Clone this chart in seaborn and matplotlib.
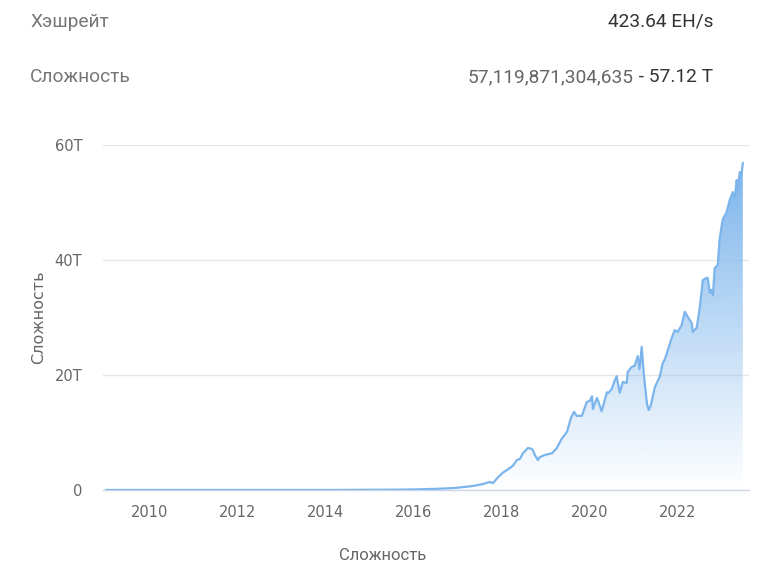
import numpy as np
import pandas as pd
import seaborn as sns
import matplotlib.pyplot as plt
from matplotlib import colors
from matplotlib.path import Path
from matplotlib.patches import PathPatch

# Header values
HASHRATE_LABEL = "Хэшрейт"
HASHRATE_VALUE = "423.64 EH/s"
DIFF_LABEL = "Сложность"
DIFF_RAW = "57,119,871,304,635"
DIFF_SHORT = " - 57.12 T"

# Difficulty series (decimal year, value in T)
years = [
    2009.0, 2010.0, 2011.0, 2012.0, 2013.0, 2014.0, 2014.5, 2015.0, 2015.5,
    2016.0, 2016.5, 2016.8, 2017.0, 2017.34, 2017.55, 2017.73, 2017.8, 2017.9,
    2018.02, 2018.14, 2018.25, 2018.34, 2018.41, 2018.48, 2018.59, 2018.66,
    2018.7, 2018.75, 2018.82, 2018.86, 2018.98, 2019.14, 2019.25, 2019.36,
    2019.48, 2019.57, 2019.64, 2019.7, 2019.82, 2019.93, 2020.0, 2020.05,
    2020.07, 2020.16, 2020.18, 2020.27, 2020.39, 2020.43, 2020.5, 2020.57,
    2020.61, 2020.68, 2020.75, 2020.84, 2020.86, 2020.95, 2021.02, 2021.09,
    2021.13, 2021.18, 2021.23, 2021.3, 2021.34, 2021.39, 2021.48, 2021.59,
    2021.66, 2021.70, 2021.77, 2021.86, 2021.93, 2022.0, 2022.09, 2022.16,
    2022.23, 2022.32, 2022.34, 2022.43, 2022.5, 2022.57, 2022.66, 2022.68,
    2022.73, 2022.77, 2022.8, 2022.84, 2022.91, 2022.95, 2023.02, 2023.11,
    2023.18, 2023.25, 2023.3, 2023.34, 2023.36, 2023.41, 2023.45, 2023.48,
]
difficulty = [
    0.0, 0.0, 0.0, 0.0, 0.0, 0.003, 0.015, 0.04, 0.05,
    0.1, 0.2, 0.3, 0.4, 0.7, 1.0, 1.4, 1.2, 2.1,
    3.0, 3.6, 4.2, 5.2, 5.4, 6.4, 7.3, 7.2,
    7.0, 6.1, 5.2, 5.7, 6.1, 6.4, 7.3, 8.9,
    10.1, 12.5, 13.6, 12.9, 12.9, 15.3, 15.5, 16.3,
    14.1, 16.0, 15.7, 13.7, 17.0, 16.9, 17.6, 19.1,
    19.8, 16.9, 18.8, 18.6, 20.5, 21.4, 21.6, 23.3,
    21.0, 24.9, 20.0, 15.0, 13.9, 14.8, 17.9, 19.7,
    22.1, 22.6, 24.2, 26.4, 27.8, 27.5, 28.7, 31.0,
    30.1, 29.0, 27.5, 28.2, 31.7, 36.5, 36.9, 36.9,
    34.3, 34.8, 33.9, 38.6, 39.1, 43.5, 47.0, 48.3,
    50.4, 51.8, 50.8, 53.9, 52.2, 55.3, 54.8, 56.9,
]

year_ticks = [2010, 2012, 2014, 2016, 2018, 2020, 2022]
value_ticks = [0, 20, 40, 60]
value_tick_labels = ["0", "20T", "40T", "60T"]

LINE_COLOR = "#7cb5ec"
AXIS_COLOR = "#ccd6eb"
GRID_COLOR = "#e6e6e6"
LABEL_COLOR = "#666666"
DARK_COLOR = "#333333"
HEADER_SIZE = 13.8

sns.set_style("white")
plt.rcParams["font.family"] = ["DejaVu Sans"]

df = pd.DataFrame({"year": years, "difficulty": difficulty})

fig = plt.figure(figsize=(7.68, 5.69), dpi=100)
ax = fig.add_axes([103 / 768, 1 - 490 / 569, (749 - 103) / 768, (490 - 145) / 569])

# -------------------------------------------------------------------------
# Gradient area under the line
x_min, x_max = 2008.93, 2023.62
y_top = max(difficulty)
grad = np.linspace(1.0, 0.0, 256)[:, None]
rgba = np.zeros((256, 1, 4))
rgba[..., :3] = colors.to_rgb(LINE_COLOR)
rgba[..., 3] = grad
im = ax.imshow(rgba, extent=[years[0], years[-1], 0, y_top], aspect="auto",
               origin="upper", zorder=1, interpolation="bilinear")
verts = [(years[0], 0)] + list(zip(years, difficulty)) + [(years[-1], 0), (years[0], 0)]
clip = PathPatch(Path(verts), transform=ax.transData, facecolor="none", edgecolor="none")
ax.add_patch(clip)
im.set_clip_path(clip)

sns.lineplot(data=df, x="year", y="difficulty", ax=ax, color=LINE_COLOR,
             linewidth=1.6, sort=False, zorder=3)

# -------------------------------------------------------------------------
# Axes
ax.set_xlim(x_min, x_max)
ax.set_ylim(0, 60)
ax.set_xticks(year_ticks)
ax.set_xticklabels([str(y) for y in year_ticks])
ax.set_yticks(value_ticks)
ax.set_yticklabels(value_tick_labels)

for s in ["top", "right", "left"]:
    ax.spines[s].set_visible(False)
ax.spines["bottom"].set_color(AXIS_COLOR)
ax.spines["bottom"].set_linewidth(1)

ax.grid(False)
for v in value_ticks[1:]:
    ax.axhline(v, color=GRID_COLOR, linewidth=1, zorder=0)

ax.tick_params(axis="x", length=7, width=1, color=AXIS_COLOR, pad=3.5,
               labelsize=10.5, labelcolor=LABEL_COLOR)
ax.tick_params(axis="y", length=0, pad=15, labelsize=10.5, labelcolor=LABEL_COLOR)

ax.set_xlabel("")
ax.set_ylabel("Сложность", fontsize=11.5, color=LABEL_COLOR, labelpad=6)
fig.text(383 / 768, 1 - 555 / 569, "Сложность", fontsize=12, color=LABEL_COLOR,
         family=["Roboto"], va="center", ha="center")

# -------------------------------------------------------------------------
# Header text
fig.text(30 / 768, 1 - 22 / 569, HASHRATE_LABEL, fontsize=HEADER_SIZE, color="#777777",
         family=["Roboto"], va="center", ha="left")
fig.text(713 / 768, 1 - 22 / 569, HASHRATE_VALUE, fontsize=HEADER_SIZE, color=DARK_COLOR,
         family=["Roboto"], va="center", ha="right")
fig.text(30 / 768, 1 - 77 / 569, DIFF_LABEL, fontsize=HEADER_SIZE, color="#777777",
         family=["Roboto"], va="center", ha="left")
short = fig.text(713 / 768, 1 - 77 / 569, DIFF_SHORT, fontsize=HEADER_SIZE, color=DARK_COLOR,
                 family=["Roboto"], va="center", ha="right")
renderer = fig.canvas.get_renderer()
bb = short.get_window_extent(renderer=renderer)
fig.text(bb.x0 / fig.bbox.width, 1 - 77 / 569, DIFF_RAW, fontsize=HEADER_SIZE, color="#666666",
         family=["Roboto"], va="center", ha="right")

plt.savefig("out.png", dpi=100)
